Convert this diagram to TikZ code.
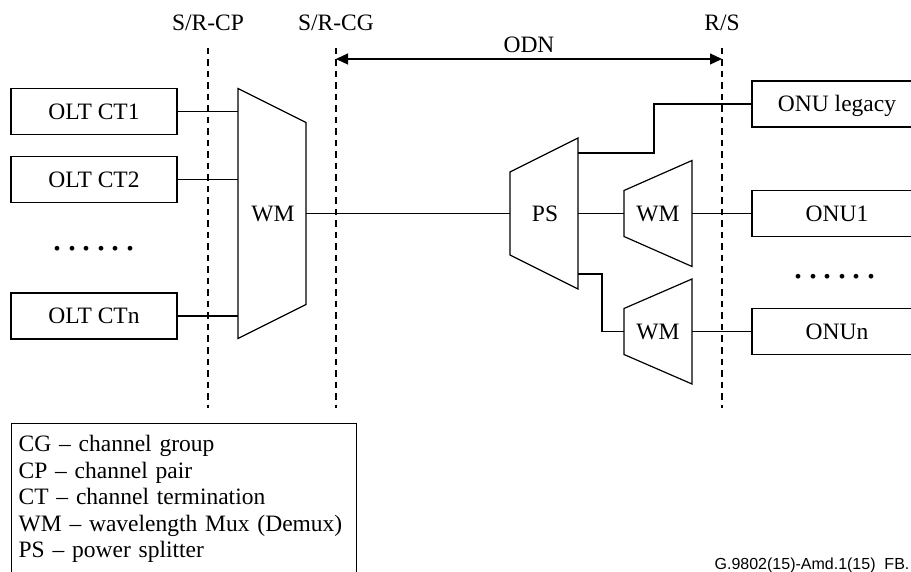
\documentclass[tikz,border=0pt]{standalone}
\usepackage{fontspec}
\setmainfont{Liberation Serif}
\newfontfamily\footfont{Liberation Sans}
\usetikzlibrary{arrows.meta}
\begin{document}
\begin{tikzpicture}[x=1pt,y=-1pt,line width=1.2pt,
  every node/.style={inner sep=0pt},
  txt/.style={font=\fontsize{23.5}{26.5}\selectfont, text height=15.5pt, text depth=0pt},
  unit/.style={txt, draw, line width=1.2pt, minimum height=46pt},
  olt/.style={unit, minimum width=166pt},
  onu/.style={unit, minimum width=170pt},
  dotrow/.style={font=\fontsize{40}{44}\selectfont},
  refline/.style={line width=1.1pt, dash pattern=on 6.5pt off 5pt},
  odnarrow/.style={{Triangle[length=12pt,width=11pt]}-{Triangle[length=12pt,width=11pt]}},
  legendbox/.style={draw, line width=1.2pt, anchor=north west, inner xsep=7pt, inner ysep=12pt,
    text width=331pt, align=left, font=\fontsize{23.5}{26.5}\selectfont},
]
\useasboundingbox (0,0) rectangle (911,572);
\clip (0,0) rectangle (911,572);

% reference points
\node[txt] (srcp) at (208,23) {S/R-CP};
\node[txt] (srcg) at (336,23) {S/R-CG};
\node[txt] (rs) at (722,23) {R/S};
\coordinate (cpT) at (208,48); \coordinate (cpB) at (208,408);
\coordinate (cgT) at (336,48); \coordinate (cgB) at (336,408);
\coordinate (rsT) at (722,48); \coordinate (rsB) at (722,408);
\draw[refline] (cpT) -- (cpB);
\draw[refline] (cgT) -- (cgB);
\draw[refline] (rsT) -- (rsB);
\node[txt] (odn) at (529,45) {ODN};
\coordinate (odnL) at (336,59); \coordinate (odnR) at (722,59);
\draw[odnarrow] (odnL) -- (odnR);

% OLT side
\node[olt] (ct1) at (94,111.5) {OLT CT1};
\node[olt] (ct2) at (94,179.5) {OLT CT2};
\node[dotrow] (ldots) at (94,248.5) {.\hspace{4.5pt}.\hspace{4.5pt}.\hspace{4.5pt}.\hspace{4.5pt}.\hspace{4.5pt}.};
\node[olt] (ctn) at (94,316) {OLT CTn};

% WM (OLT side)
\coordinate (wmA) at (238,88.5); \coordinate (wmB) at (306,122.5);
\coordinate (wmC) at (306,304.5); \coordinate (wmD) at (238,338.5);
\draw (wmA) -- (wmB) -- (wmC) -- (wmD) -- cycle;
\node[txt] (wm) at (273,213.5) {WM};
\draw (ct1.east) -- (ct1.east -| wmA);
\draw (ct2.east) -- (ct2.east -| wmA);
\draw (ctn.east) -- (ctn.east -| wmA);

% PS
\coordinate (psA) at (510,172); \coordinate (psB) at (578,138);
\coordinate (psC) at (578,289); \coordinate (psD) at (510,255);
\draw (psA) -- (psB) -- (psC) -- (psD) -- cycle;
\node[txt] (ps) at (545,213.5) {PS};
\coordinate (wmout) at (306,213.5); \coordinate (psin) at (510,213.5);
\draw (wmout) -- (psin);

% WM 1
\coordinate (w1A) at (624,190.5); \coordinate (w1B) at (692,160.5);
\coordinate (w1C) at (692,266.5); \coordinate (w1D) at (624,236.5);
\draw (w1A) -- (w1B) -- (w1C) -- (w1D) -- cycle;
\node[txt] (wm1) at (658,213.5) {WM};

% WM 2
\coordinate (w2A) at (624,308.5); \coordinate (w2B) at (692,279);
\coordinate (w2C) at (692,384); \coordinate (w2D) at (624,354.5);
\draw (w2A) -- (w2B) -- (w2C) -- (w2D) -- cycle;
\node[txt] (wm2) at (658,331.5) {WM};

% ONUs
\node[onu] (onul) at (837,104) {ONU legacy};
\node[onu] (onu1) at (837,213.5) {ONU1};
\node[dotrow] (rdots) at (835,276.5) {.\hspace{4.5pt}.\hspace{4.5pt}.\hspace{4.5pt}.\hspace{4.5pt}.\hspace{4.5pt}.};
\node[onu] (onun) at (837,331.5) {ONUn};

% connectors right side
\coordinate (psO1) at (578,153); \coordinate (psO2) at (578,213.5); \coordinate (psO3) at (578,274);
\coordinate (w1in) at (624,213.5); \coordinate (w1out) at (692,213.5);
\coordinate (w2in) at (624,331.5); \coordinate (w2out) at (692,331.5);
\draw (psO1) -- ++(76,0) |- (onul.west);
\draw (psO2) -- (w1in);
\draw (w1out) -- (onu1.west);
\draw (psO3) -- ++(24,0) |- (w2in);
\draw (w2out) -- (onun.west);

% legend
\node[legendbox] (legend) at (11,423) {CG – channel group\\CP – channel pair\\CT – channel termination\\WM – wavelength Mux (Demux)\\PS – power splitter};

% footer
\node[anchor=base east, font=\footfont\fontsize{16}{19}\selectfont] (fig) at (910,569.5) {G.9802(15)-Amd.1(15)\ \ FB.};
\end{tikzpicture}
\end{document}
